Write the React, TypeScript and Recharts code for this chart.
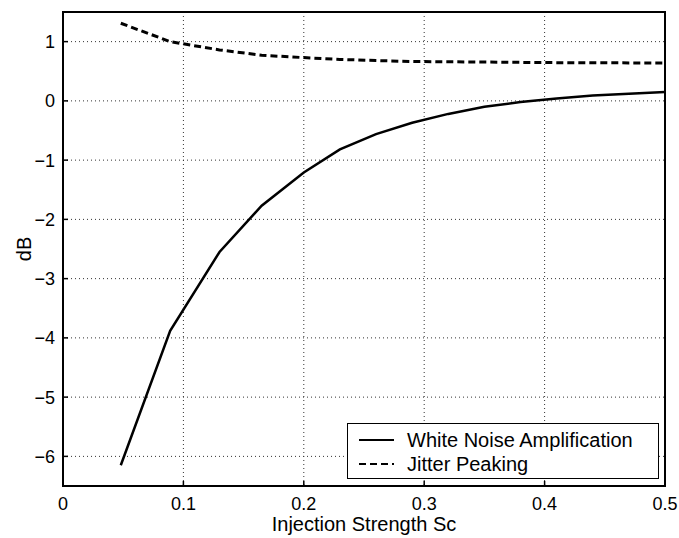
import { LineChart, Line, XAxis, YAxis, CartesianGrid, Legend } from "recharts";

// injection strength samples
const sc = [0.048, 0.089, 0.13, 0.165, 0.2, 0.23, 0.26, 0.29, 0.32, 0.35, 0.38, 0.41, 0.44, 0.47, 0.5];
const whiteNoiseDb = [-6.15, -3.88, -2.55, -1.77, -1.21, -0.82, -0.56, -0.37, -0.22, -0.1, -0.02, 0.04, 0.09, 0.12, 0.15];
const jitterPeakingDb = [1.31, 1.0, 0.86, 0.77, 0.73, 0.7, 0.68, 0.665, 0.66, 0.655, 0.65, 0.645, 0.643, 0.641, 0.64];

const seriesNames = ["White Noise Amplification", "Jitter Peaking"];

const xDomain = [0, 0.5];
const yDomain = [-6.5, 1.5];
const xTicks = [0, 0.1, 0.2, 0.3, 0.4, 0.5];
const yTicks = [-6, -5, -4, -3, -2, -1, 0, 1];

const FONT = '"Liberation Sans", Arial, sans-serif';

const data = sc.map((x, i) => ({
  sc: x,
  wna: whiteNoiseDb[i],
  jp: jitterPeakingDb[i],
}));

const fmtY = (v: number) => (v < 0 ? "\u2212" + Math.abs(v) : String(v));

function LegendBox(props: any) {
  const payload = (props.payload || [])
    .filter((e: any) => seriesNames.includes(e.value))
    .sort((a: any, b: any) => seriesNames.indexOf(a.value) - seriesNames.indexOf(b.value));
  return (
    <div
      style={{
        border: "1px solid #000",
        background: "#fff",
        width: 310,
        height: 54,
        fontFamily: FONT,
        fontSize: 20,
        color: "#000",
      }}
    >
      {payload.map((entry: any, i: number) => (
        <div
          key={entry.value}
          style={{ display: "flex", alignItems: "center", height: 24, marginTop: i === 0 ? 4 : 0 }}
        >
          <svg width={59} height={24}>
            <line
              x1={11}
              x2={46}
              y1={12}
              y2={12}
              stroke="#000"
              strokeWidth={2}
              strokeDasharray={entry.payload?.strokeDasharray}
            />
          </svg>
          <span>{entry.value}</span>
        </div>
      ))}
    </div>
  );
}

export default function App() {
  return (
    <div style={{ position: "absolute", left: 8, top: 8, width: 671, height: 530 }}>
      <LineChart
        width={671}
        height={530}
        data={data}
        margin={{ top: -16, right: -6, bottom: 0, left: 0 }}
        style={{ fontFamily: FONT }}
      >
        <CartesianGrid xAxisId="b" yAxisId="l" stroke="#333" strokeDasharray="1 3" />
        <XAxis
          xAxisId="b"
          dataKey="sc"
          type="number"
          domain={xDomain}
          ticks={xTicks}
          allowDataOverflow
          height={52}
          tickSize={-5}
          tickMargin={16}
          tick={{ fill: "#000", fontSize: 18 }}
          stroke="#000"
          strokeWidth={1.5}
          label={{
            value: "Injection Strength Sc",
            position: "insideBottom",
            offset: 7,
            fill: "#000",
            fontSize: 20,
          }}
        />
        <XAxis
          xAxisId="t"
          orientation="top"
          dataKey="sc"
          type="number"
          domain={xDomain}
          ticks={xTicks}
          height={20}
          tickSize={-5}
          tick={false}
          tickLine={{ stroke: "#000", strokeWidth: 1.5 }}
          axisLine={{ stroke: "#000", strokeWidth: 1.5 }}
        />
        <YAxis
          yAxisId="l"
          type="number"
          domain={yDomain}
          ticks={yTicks}
          allowDataOverflow
          width={55}
          tickSize={-5}
          tickMargin={13}
          tickFormatter={fmtY}
          tick={{ fill: "#000", fontSize: 18 }}
          stroke="#000"
          strokeWidth={1.5}
          label={{
            content: (p: any) => {
              const vb = p.viewBox;
              const cx = vb.x + 16;
              const cy = vb.y + vb.height / 2;
              return (
                <text
                  x={cx}
                  y={cy}
                  transform={`rotate(-90 ${cx} ${cy})`}
                  textAnchor="middle"
                  dominantBaseline="central"
                  fill="#000"
                  fontSize={20}
                  fontFamily={FONT}
                >
                  dB
                </text>
              );
            },
          }}
        />
        <YAxis
          yAxisId="r"
          orientation="right"
          type="number"
          domain={yDomain}
          ticks={yTicks}
          width={20}
          tickSize={-5}
          tick={false}
          tickLine={{ stroke: "#000", strokeWidth: 1.5 }}
          axisLine={{ stroke: "#000", strokeWidth: 1.5 }}
        />
        <Legend
          layout="vertical"
          align="center"
          verticalAlign="middle"
          content={<LegendBox />}
          wrapperStyle={{ left: 339, top: 415, width: "auto" }}
        />
        <Line
          xAxisId="t"
          yAxisId="r"
          type="linear"
          dataKey="jp"
          name="frame"
          stroke="none"
          legendType="none"
          dot={false}
          activeDot={false}
          isAnimationActive={false}
        />
        <Line
          xAxisId="b"
          yAxisId="l"
          type="linear"
          dataKey="wna"
          name={seriesNames[0]}
          stroke="#000"
          strokeWidth={2.5}
          dot={false}
          isAnimationActive={false}
        />
        <Line
          xAxisId="b"
          yAxisId="l"
          type="linear"
          dataKey="jp"
          name={seriesNames[1]}
          stroke="#000"
          strokeWidth={3}
          strokeDasharray="7 4"
          dot={false}
          isAnimationActive={false}
        />
      </LineChart>
      {/* plot frame overlay */}
      <div
        style={{
          position: "absolute",
          left: 54,
          top: 3,
          width: 604,
          height: 476,
          boxSizing: "border-box",
          border: "2px solid #000",
          pointerEvents: "none",
        }}
      />
    </div>
  );
}
